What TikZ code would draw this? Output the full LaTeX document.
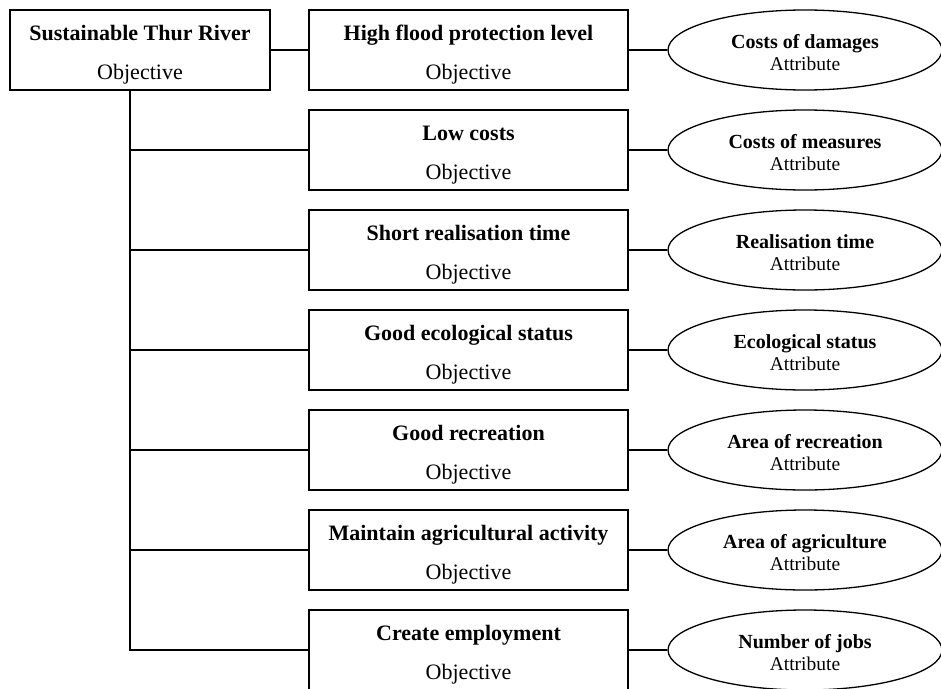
\documentclass[tikz,border=0pt]{standalone}
\usepackage{fontspec}
\setmainfont{Liberation Serif}
\usetikzlibrary{shapes.geometric}
\begin{document}
\begin{tikzpicture}[x=1pt,y=-1pt,line width=1.3pt,
  objbox/.style={draw,rectangle,inner sep=0pt,minimum width=319pt,minimum height=80pt},
  rootbox/.style={draw,rectangle,inner sep=0pt,minimum width=260pt,minimum height=80pt},
  attr/.style={draw,ellipse,inner sep=0pt,minimum width=274pt,minimum height=80pt},
  ttl/.style={anchor=base,inner sep=0pt,font=\fontsize{22}{26}\selectfont\bfseries},
  typ/.style={anchor=base,inner sep=0pt,font=\fontsize{22}{26}\selectfont},
  attl/.style={anchor=base,inner sep=0pt,font=\fontsize{20}{24}\selectfont\bfseries},
  atyp/.style={anchor=base,inner sep=0pt,font=\fontsize{19.5}{23}\selectfont},
  conn/.style={draw}]
\useasboundingbox (0,0) rectangle (941,688);
% root
\node[rootbox] (root) at (140,50) {};
\node[ttl] (roott) at (140,40) {Sustainable Thur River};
\node[typ] (rooty) at (140,79) {Objective};
\coordinate (t) at (130,90);
% objectives and attributes
\foreach \i/\ti/\at in {1/High flood protection level/Costs of damages,
  2/Low costs/Costs of measures,
  3/Short realisation time/Realisation time,
  4/Good ecological status/Ecological status,
  5/Good recreation/Area of recreation,
  6/Maintain agricultural activity/Area of agriculture,
  7/Create employment/Number of jobs}{
  \pgfmathsetmacro{\yy}{50+100*(\i-1)}
  \node[objbox] (b\i) at (468.5,\yy) {};
  \node[ttl] (b\i t) at (468.5,\yy-10) {\ti};
  \node[typ] (b\i y) at (468.5,\yy+29) {Objective};
  \node[attr] (a\i) at (805,\yy) {};
  \node[attl] (a\i t) at (805,\yy-2) {\at};
  \node[atyp] (a\i y) at (805,\yy+20) {Attribute};
  \draw[conn] (b\i.east) -- (a\i.west);
}
\draw[conn] (root.east) -- (b1.west);
\draw[conn] (t) -- (t |- b7.west) -- (b7.west);
\foreach \i in {2,...,6}{
  \draw[conn] (t |- b\i.west) -- (b\i.west);
}
\end{tikzpicture}
\end{document}
